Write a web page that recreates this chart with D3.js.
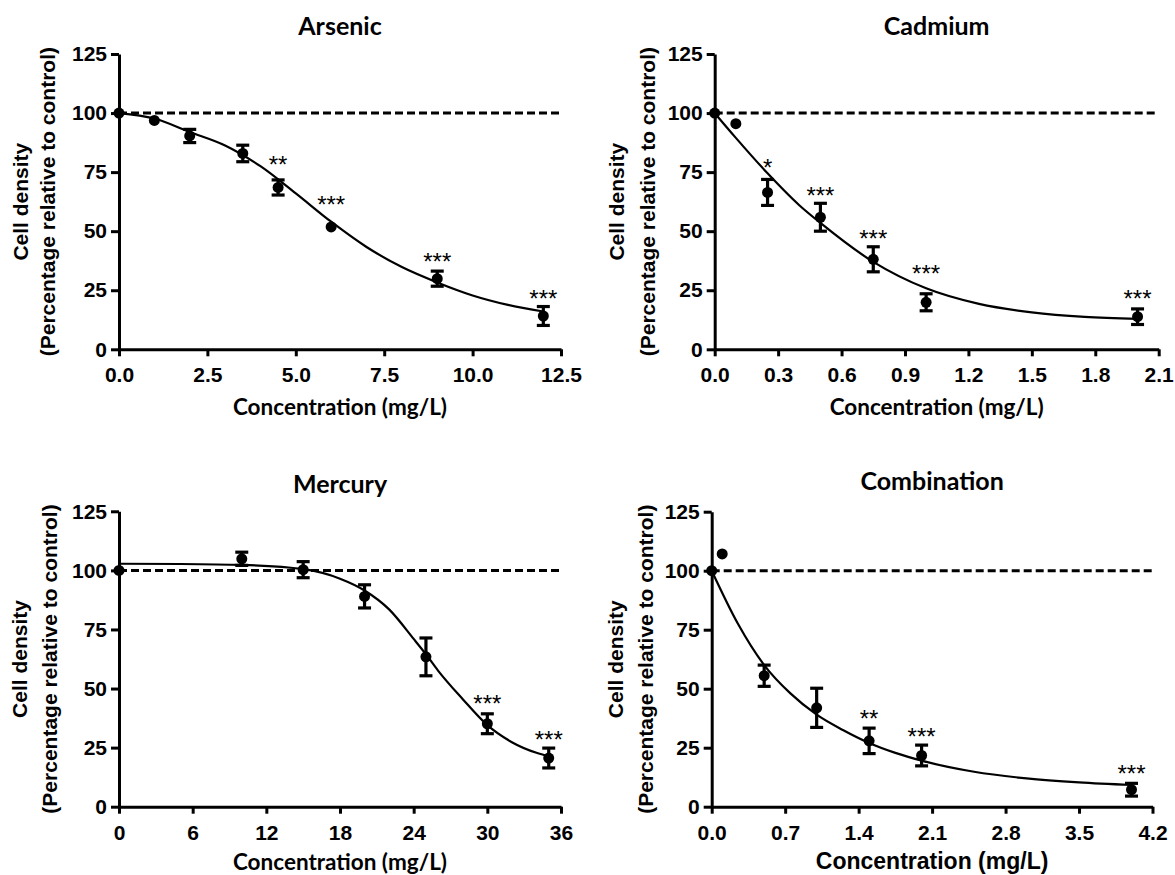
<!DOCTYPE html>
<html>
<head>
<meta charset="utf-8">
<script src="https://cdn.jsdelivr.net/npm/d3@7"></script>
<style>
  body { margin: 0; background: #fff; }
  svg { display: block; }
  .tick text { font-family: "Liberation Sans", Arial, sans-serif; font-weight: bold; font-size: 21px; fill: #000; }
  .domain, .tick line { stroke: #000; stroke-width: 3; }
</style>
</head>
<body>
<svg id="chart"></svg>
<script>
const width = 1175;
const height = 875;

// y axis shared by all panels
const yTicks = [0, 25, 50, 75, 100, 125];

// Arsenic
const arsenicConc = [0, 1, 2, 3.5, 4.5, 6, 9, 12];
const arsenicMean = [100, 96.9, 90.3, 82.9, 68.5, 51.8, 29.9, 14.1];
const arsenicSem  = [0, 0, 2.8, 3.5, 3.2, 0, 3.2, 4.0];
const arsenicFitX = [0, 1, 2, 3, 4, 5, 6, 7, 8, 9, 10, 11, 12];
const arsenicFitY = [100, 97.7, 92, 86.3, 77.5, 66, 54, 43.3, 34.8, 28.3, 22.8, 18.8, 16.0];
const arsenicStarX = [4.5, 6, 9, 12];
const arsenicStarY = [80.4, 63.2, 39.2, 23.7];
const arsenicStars = ['**', '***', '***', '***'];
const arsenicTicks = [0, 2.5, 5, 7.5, 10, 12.5];

// Cadmium
const cadmiumConc = [0, 0.1, 0.25, 0.5, 0.75, 1, 2];
const cadmiumMean = [100, 95.5, 66.4, 55.9, 38.1, 19.9, 13.8];
const cadmiumSem  = [0, 0, 5.5, 5.9, 5.3, 3.6, 3.3];
const cadmiumFitX = [0, 0.1, 0.25, 0.4, 0.5, 0.75, 1, 1.25, 1.5, 1.75, 2];
const cadmiumFitY = [100, 89.5, 74.5, 61, 53.5, 37, 25.8, 19.2, 15.6, 13.7, 12.9];
const cadmiumStarX = [0.25, 0.5, 0.75, 1, 2];
const cadmiumStarY = [79.2, 67.4, 48.8, 34.3, 23.7];
const cadmiumStars = ['*', '***', '***', '***', '***'];
const cadmiumTicks = [0, 0.3, 0.6, 0.9, 1.2, 1.5, 1.8, 2.1];

// Mercury
const mercuryConc = [0, 10, 15, 20, 25, 30, 35];
const mercuryMean = [100, 104.9, 100.3, 89, 63.4, 35.1, 20.6];
const mercurySem  = [0, 2.8, 3.4, 4.9, 8.0, 4.2, 4.2];
const mercuryFitX = [0, 5, 10, 15, 18, 20, 22, 24, 25, 26, 28, 30, 32, 34, 35];
const mercuryFitY = [102.8, 102.7, 102.3, 100.5, 96.5, 91.5, 83.5, 71, 64.5, 57.5, 45.5, 34.5, 27.3, 22.8, 21.3];
const mercuryStarX = [30, 35];
const mercuryStarY = [45.9, 30.4];
const mercuryStars = ['***', '***'];
const mercuryTicks = [0, 6, 12, 18, 24, 30, 36];

// Combination
const comboConc = [0, 0.1, 0.5, 1, 1.5, 2, 4];
const comboMean = [100, 107.1, 55.5, 41.9, 27.9, 21.7, 7.2];
const comboSem  = [0, 0, 4.5, 8.3, 5.4, 4.4, 2.7];
const comboFitX = [0, 0.25, 0.5, 0.75, 1, 1.25, 1.5, 1.75, 2, 2.5, 3, 3.5, 4];
const comboFitY = [100, 77.5, 60, 48, 39, 32.5, 27, 22.8, 19.5, 14.8, 12, 10.3, 9.2];
const comboStarX = [1.5, 2, 4];
const comboStarY = [39.5, 31.8, 16.3];
const comboStars = ['**', '***', '***'];
const comboTicks = [0, 0.7, 1.4, 2.1, 2.8, 3.5, 4.2];

const calibri = '"Lato", "Carlito", sans-serif';
const arial = '"Liberation Sans", Arial, sans-serif';

const panels = [
  { title: 'Arsenic', conc: arsenicConc, mean: arsenicMean, sem: arsenicSem, fitX: arsenicFitX, fitY: arsenicFitY,
    starX: arsenicStarX, starY: arsenicStarY, stars: arsenicStars, ticks: arsenicTicks, fmt: '.1f',
    left: 119, right: 561, top: 54, bottom: 349.3, titleY: 35, labelY: 415, labelFont: calibri, labelSize: 22.5,
    yLabelX: [27.5, 55] },
  { title: 'Cadmium', conc: cadmiumConc, mean: cadmiumMean, sem: cadmiumSem, fitX: cadmiumFitX, fitY: cadmiumFitY,
    starX: cadmiumStarX, starY: cadmiumStarY, stars: cadmiumStars, ticks: cadmiumTicks, fmt: '.1f',
    left: 714.7, right: 1158.7, top: 54, bottom: 349.3, titleY: 35, labelY: 415, labelFont: calibri, labelSize: 22.5,
    yLabelX: [624, 655] },
  { title: 'Mercury', conc: mercuryConc, mean: mercuryMean, sem: mercurySem, fitX: mercuryFitX, fitY: mercuryFitY,
    starX: mercuryStarX, starY: mercuryStarY, stars: mercuryStars, ticks: mercuryTicks, fmt: 'd',
    left: 119, right: 561, top: 511.3, bottom: 806.7, titleY: 493, labelY: 870, labelFont: calibri, labelSize: 22.5,
    yLabelX: [27, 56.5] },
  { title: 'Combination', conc: comboConc, mean: comboMean, sem: comboSem, fitX: comboFitX, fitY: comboFitY,
    starX: comboStarX, starY: comboStarY, stars: comboStars, ticks: comboTicks, fmt: '.1f',
    left: 711.7, right: 1152.5, top: 511.7, bottom: 806.7, titleY: 490, labelY: 869, labelFont: arial, labelSize: 23,
    yLabelX: [623, 653] }
];

const svg = d3.select('#chart')
            .attr('width', width)
            .attr('height', height);

panels.forEach(p => {
    const x = d3.scaleLinear().domain([0, p.ticks[p.ticks.length - 1]]).range([p.left, p.right]);
    const y = d3.scaleLinear().domain([0, 125]).range([p.bottom, p.top]);
    const g = svg.append('g');

    // dashed control line at 100%
    g.append('line')
        .attr('x1', x(0)).attr('x2', x.range()[1])
        .attr('y1', y(100)).attr('y2', y(100))
        .attr('stroke', '#000').attr('stroke-width', 3)
        .attr('stroke-dasharray', '8,4');

    // axes
    g.append('g')
        .attr('transform', `translate(0, ${p.bottom})`)
        .call(d3.axisBottom(x).tickValues(p.ticks).tickFormat(d3.format(p.fmt))
              .tickSizeInner(7).tickSizeOuter(0).tickPadding(11));
    g.append('g')
        .attr('transform', `translate(${p.left}, 0)`)
        .call(d3.axisLeft(y).tickValues(yTicks).tickSizeInner(8).tickSizeOuter(0).tickPadding(4));

    // fitted curve
    const fit = p.fitX.map((v, i) => [v, p.fitY[i]]);
    g.append('path').datum(fit)
        .attr('fill', 'none')
        .attr('stroke', '#000')
        .attr('stroke-width', 2.2)
        .attr('d', d3.line().x(d => x(d[0])).y(d => y(d[1])).curve(d3.curveMonotoneX));

    // error bars
    const pts = p.conc.map((c, i) => ({ c, m: p.mean[i], e: p.sem[i] })).filter(d => d.e > 0);
    const eb = g.selectAll('.eb').data(pts).enter().append('g')
        .attr('stroke', '#000').attr('stroke-width', 3.2);
    eb.append('line')
        .attr('x1', d => x(d.c)).attr('x2', d => x(d.c))
        .attr('y1', d => y(d.m - d.e)).attr('y2', d => y(d.m + d.e));
    eb.append('line')
        .attr('x1', d => x(d.c) - 6.5).attr('x2', d => x(d.c) + 6.5)
        .attr('y1', d => y(d.m + d.e)).attr('y2', d => y(d.m + d.e));
    eb.append('line')
        .attr('x1', d => x(d.c) - 6.5).attr('x2', d => x(d.c) + 6.5)
        .attr('y1', d => y(d.m - d.e)).attr('y2', d => y(d.m - d.e));

    // points
    g.selectAll('circle').data(p.conc).enter().append('circle')
        .attr('cx', d => x(d))
        .attr('cy', (d, i) => y(p.mean[i]))
        .attr('r', 5.5)
        .attr('fill', '#000');

    // significance stars
    g.selectAll('.star').data(p.stars).enter().append('text')
        .attr('x', (d, i) => x(p.starX[i]))
        .attr('y', (d, i) => y(p.starY[i]))
        .attr('dy', '0.56em')
        .attr('text-anchor', 'middle')
        .style('font-family', arial)
        .style('font-size', '24px')
        .text(d => d);

    // title
    g.append('text')
        .attr('x', (p.left + p.right) / 2)
        .attr('y', p.titleY)
        .attr('text-anchor', 'middle')
        .style('font-family', calibri)
        .style('font-weight', 'bold')
        .style('font-size', '25px')
        .text(p.title);

    // x label
    g.append('text')
        .attr('x', (p.left + p.right) / 2)
        .attr('y', p.labelY)
        .attr('text-anchor', 'middle')
        .style('font-family', p.labelFont)
        .style('font-weight', 'bold')
        .style('font-size', p.labelSize + 'px')
        .text('Concentration (mg/L)');

    // y label, two lines
    const yMid = (p.top + p.bottom) / 2;
    ['Cell density', '(Percentage relative to control)'].forEach((t, i) => {
        g.append('text')
            .attr('transform', `translate(${p.yLabelX[i]}, ${yMid}) rotate(-90)`)
            .attr('text-anchor', 'middle')
            .style('font-family', arial)
            .style('font-weight', 'bold')
            .style('font-size', '21px')
            .text(t);
    });
});
</script>
</body>
</html>
